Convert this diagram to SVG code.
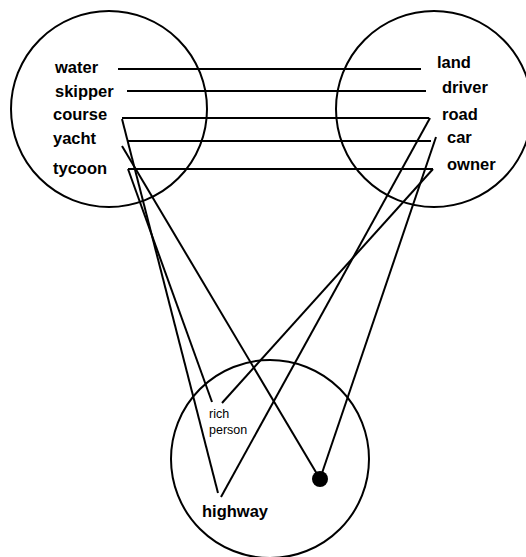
<svg xmlns="http://www.w3.org/2000/svg" width="526" height="557" viewBox="0 0 526 557">
<style>
.c{fill:none;stroke:#000;stroke-width:2}
.l{stroke:#000;stroke-width:2;fill:none}
.t{font-family:"Liberation Sans",Arial,sans-serif;font-weight:bold;font-size:16.5px;fill:#000}
.s{font-family:"Liberation Sans",Arial,sans-serif;font-size:12.5px;fill:#000}
.h{font-family:"Liberation Sans",Arial,sans-serif;font-weight:bold;font-size:16.5px;fill:#000}
</style>
<rect width="526" height="557" fill="#fff"/>
<g id="sea">
<circle class="c" cx="109" cy="109" r="98"/>
<text class="t" x="55" y="73">water</text>
<text class="t" x="55" y="97">skipper</text>
<text class="t" x="53" y="120">course</text>
<text class="t" x="53" y="144">yacht</text>
<text class="t" x="53" y="174">tycoon</text>
</g>
<g id="landdomain">
<circle class="c" cx="434" cy="109" r="98"/>
<text class="t" x="437" y="68">land</text>
<text class="t" x="442" y="93">driver</text>
<text class="t" x="442" y="120">road</text>
<text class="t" x="447" y="143">car</text>
<text class="t" x="447" y="170">owner</text>
</g>
<g id="blend">
<circle class="c" cx="270" cy="459" r="99"/>
<text class="s" x="209" y="418">rich</text>
<text class="s" x="209" y="434">person</text>
<text class="h" x="202" y="517">highway</text>
<circle cx="320" cy="479" r="8" fill="#000"/>
</g>
<g id="connectors">
<line class="l" x1="118" y1="69" x2="421" y2="69"/>
<line class="l" x1="127" y1="91" x2="426" y2="91"/>
<line class="l" x1="122" y1="118" x2="429" y2="118"/>
<line class="l" x1="128" y1="141" x2="431" y2="141"/>
<line class="l" x1="128" y1="169" x2="433" y2="169"/>
<line class="l" x1="122" y1="119" x2="218" y2="493"/>
<line class="l" x1="122" y1="146" x2="320" y2="479"/>
<line class="l" x1="128" y1="169" x2="212" y2="402"/>
<line class="l" x1="430" y1="118" x2="221" y2="497"/>
<line class="l" x1="436" y1="137" x2="320" y2="479"/>
<line class="l" x1="433" y1="169" x2="222" y2="403"/>
</g>
</svg>
